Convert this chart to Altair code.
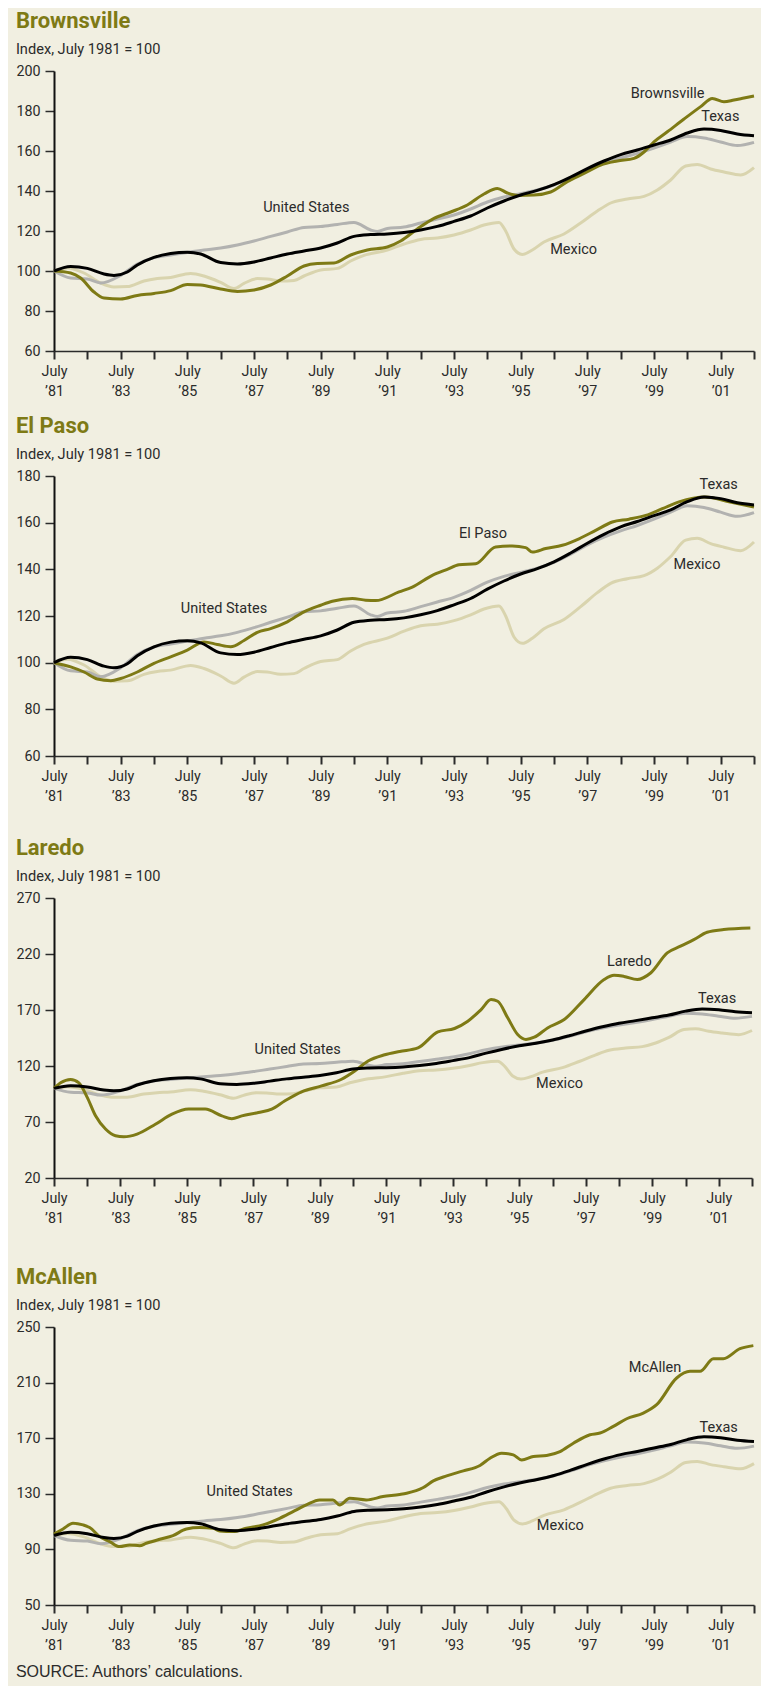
import altair as alt
import pandas as pd

# ---------------- data (index, July 1981 = 100) ----------------
US_T = [1981.5, 1982.0, 1982.5, 1982.9, 1983.5, 1984.0, 1984.5, 1985.0, 1985.5, 1986.0,
        1986.5, 1987.0, 1987.5, 1988.0, 1988.5, 1989.0, 1989.5, 1990.0, 1990.5, 1991.0,
        1991.2, 1991.5, 1992.0, 1992.5, 1993.0, 1993.5, 1994.0, 1994.5, 1995.0, 1995.5,
        1996.0, 1996.5, 1997.0, 1997.5, 1998.0, 1998.5, 1999.0, 1999.5, 2000.0, 2000.5,
        2001.0, 2001.5, 2002.0, 2002.5]
US_V = [100, 96.5, 96, 94, 97.8, 103.5, 106.7, 108, 109.3, 110.5,
        111.5, 113, 115, 117.3, 119.5, 121.8, 122.2, 123.3, 124.3, 120.5,
        119.8, 121.3, 122, 124, 126, 128, 131, 134.5, 137, 138.7,
        140.5, 143, 146.5, 150.5, 153.8, 156.5, 158.8, 161.5, 164.5, 167.2,
        166.5, 164.5, 162.7, 164.3]

TX_T = [1981.5, 1982.0, 1982.5, 1983.0, 1983.3, 1983.7, 1984.0, 1984.5, 1985.0, 1985.5,
        1985.9, 1986.5, 1987.0, 1987.5, 1988.0, 1988.5, 1989.0, 1989.5, 1990.0, 1990.5,
        1991.0, 1991.5, 1992.0, 1992.5, 1993.0, 1993.5, 1994.0, 1994.5, 1995.0, 1995.5,
        1996.0, 1996.5, 1997.0, 1997.5, 1998.0, 1998.5, 1999.0, 1999.5, 2000.0, 2000.5,
        2001.0, 2001.5, 2002.0, 2002.5]
TX_V = [100, 102.3, 101.3, 98.5, 97.8, 99.5, 103, 106.8, 108.8, 109.4,
        108.5, 104.2, 103.5, 104.5, 106.5, 108.5, 110, 111.5, 114, 117.3,
        118.2, 118.5, 119.2, 120.5, 122.3, 124.8, 127.5, 131.5, 135, 138,
        140.3, 143.2, 147, 151.2, 155, 158.2, 160.5, 163, 165.5, 169,
        171, 170.3, 168.5, 167.6]

MX_T = [1981.5, 1981.9, 1982.4, 1982.9, 1983.3, 1983.7, 1984.2, 1984.6, 1985.0, 1985.6,
        1986.0, 1986.5, 1986.9, 1987.2, 1987.6, 1987.9, 1988.3, 1988.7, 1989.0, 1989.5,
        1990.0, 1990.4, 1990.8, 1991.5, 1992.0, 1992.5, 1993.0, 1993.5, 1994.0, 1994.4,
        1994.85, 1995.05, 1995.3, 1995.55, 1995.85, 1996.2, 1996.8, 1997.3, 1997.8, 1998.2,
        1998.7, 1999.2, 1999.6, 2000.0, 2000.45, 2000.8, 2001.2, 2001.6, 2002.1, 2002.5]
MX_V = [100, 101.5, 99, 94, 92, 92.2, 95, 96.2, 96.8, 98.8,
        97.5, 94.3, 91.2, 93.8, 96.2, 96, 95, 95.3, 97.5, 100.5,
        101.3, 105, 107.8, 110.5, 113.5, 115.8, 116.5, 118, 120.5, 123,
        124.3, 120, 111, 108.3, 110.5, 114.5, 118.5, 124, 130, 134,
        136, 137.3, 140.5, 145.5, 152.5, 153.3, 151, 149.5, 148, 151.7]

BRO_T = [1981.5, 1982.0, 1982.3, 1982.7, 1983.0, 1983.5, 1984.0, 1984.5, 1985.0, 1985.5,
         1985.9, 1986.5, 1987.0, 1987.5, 1988.0, 1988.5, 1989.0, 1989.4, 1989.9, 1990.4,
         1990.9, 1991.5, 1991.9, 1992.4, 1992.9, 1993.4, 1993.9, 1994.4, 1994.8, 1995.1,
         1995.4, 1995.9, 1996.4, 1996.9, 1997.4, 1997.9, 1998.4, 1998.9, 1999.2, 1999.5,
         1999.9, 2000.4, 2000.9, 2001.25, 2001.6, 2001.9, 2002.2, 2002.5]
BRO_V = [100, 99, 96.5, 89.5, 86.5, 86, 87.8, 88.8, 90.2, 93.3,
         93, 91, 89.8, 90.5, 93, 97.5, 102.5, 103.8, 104, 108,
         110.5, 112, 115, 121, 126.3, 129.5, 133, 138.5, 141.3, 139,
         137.8, 138, 139.5, 144.7, 148.8, 153, 155, 156.3, 159.5, 164.6,
         169.6, 176, 182.2, 186.3, 184.6, 185.5, 186.5, 187.5]

ELP_T = [1981.5, 1982.0, 1982.4, 1982.8, 1983.2, 1983.5, 1984.0, 1984.5, 1985.0, 1985.5,
         1986.0, 1986.4, 1986.8, 1987.2, 1987.6, 1988.0, 1988.5, 1989.0, 1989.5, 1989.85,
         1990.45, 1990.85, 1991.15, 1991.85, 1992.25, 1992.85, 1993.3, 1993.65, 1994.15, 1994.75,
         1995.25, 1995.65, 1995.85, 1996.25, 1996.75, 1997.25, 1997.75, 1998.25, 1998.75, 1999.25,
         1999.75, 2000.25, 2001.05, 2001.75, 2002.5]
ELP_V = [100, 98.2, 96, 93, 92.3, 93.2, 96, 99.7, 102.5, 105.4,
         108.9, 107.8, 106.8, 109.5, 113, 114.6, 117.5, 121.8, 124.6, 126.3,
         127.5, 126.8, 126.6, 130.3, 132.4, 137.4, 140, 142, 142.4, 149.6,
         150, 149.3, 147.4, 148.9, 150.3, 153.1, 156.7, 160.3, 161.5, 163.1,
         166, 168.9, 171, 168.9, 166.7]

LAR_T = [1981.5, 1981.7, 1982.0, 1982.25, 1982.5, 1982.75, 1983.05, 1983.35, 1983.6, 1984.0,
         1984.55, 1985.05, 1985.55, 1986.05, 1986.55, 1986.85, 1987.15, 1987.65, 1988.05, 1988.45,
         1988.95, 1989.55, 1990.15, 1990.55, 1990.95, 1991.45, 1991.9, 1992.45, 1993.05, 1993.55,
         1993.95, 1994.35, 1994.65, 1994.85, 1995.15, 1995.45, 1995.7, 1995.95, 1996.35, 1996.85,
         1997.45, 1998.05, 1998.35, 1998.65, 1999.05, 1999.45, 1999.95, 2000.35, 2000.75, 2001.15,
         2001.65, 2002.45]
LAR_V = [100, 105, 108, 105, 92, 75.5, 63.7, 57.7, 56.8, 59.2,
         68, 77, 81.5, 81.5, 75.5, 73, 75.5, 78.5, 81.5, 89,
         97, 102.2, 108.2, 115.6, 124.5, 130, 133, 136.2, 150.5, 153.5,
         160, 170.4, 179.3, 177.8, 163, 148.1, 143.7, 145.7, 154, 161.5,
         179.3, 197.2, 201, 200, 197.2, 203, 221, 227, 232.8, 239.4,
         241.8, 243.2]

MCA_T = [1981.5, 1981.77, 1982.07, 1982.37, 1982.57, 1982.87, 1983.17, 1983.47, 1983.77, 1984.07,
         1984.27, 1984.67, 1985.07, 1985.47, 1985.87, 1986.27, 1986.47, 1986.87, 1987.27, 1987.77,
         1988.27, 1988.67, 1989.07, 1989.47, 1989.87, 1990.07, 1990.37, 1990.87, 1991.37, 1991.87,
         1992.08, 1992.58, 1992.88, 1993.28, 1993.78, 1994.28, 1994.58, 1994.93, 1995.28, 1995.53,
         1995.88, 1996.28, 1996.68, 1997.08, 1997.58, 1997.88, 1998.28, 1998.68, 1999.18, 1999.58,
         2000.18, 2000.58, 2000.88, 2001.28, 2001.58, 2002.08, 2002.48]
MCA_V = [101, 104.7, 108.8, 107.6, 105.7, 99.2, 95.6, 92, 93.2, 92.7,
         94.4, 97.3, 99.9, 104.7, 105.7, 105.2, 103.3, 102.8, 105.2, 107.6,
         112.4, 117.2, 122, 125.6, 125.6, 122, 126.8, 125.6, 128, 129.5,
         130.4, 134.5, 139.3, 142.9, 146.5, 150.4, 155.6, 159.2, 158, 154.4,
         156.8, 157.6, 160.4, 166.4, 172.5, 173.7, 178.5, 184, 188.1, 194.1,
         213.3, 218.1, 218.1, 227.2, 227.2, 234.4, 236.6]

# direct labels: (text, year, index)
LBL_BRO = [("United States", 1989.07, 131.3), ("Brownsville", 1999.91, 188.5),
           ("Texas", 2001.49, 177.2), ("Mexico", 1997.09, 110.5)]
LBL_ELP = [("United States", 1986.6, 123.1), ("El Paso", 1994.37, 155.3),
           ("Texas", 2001.44, 176.0), ("Mexico", 2000.79, 142.0)]
LBL_LAR = [("United States", 1988.83, 133.9), ("Laredo", 1998.81, 212.9),
           ("Texas", 2001.45, 179.4), ("Mexico", 1996.71, 103.5)]
LBL_MCA = [("United States", 1987.37, 131.6), ("McAllen", 1999.53, 220.5),
           ("Texas", 2001.44, 177.2), ("Mexico", 1996.69, 107.1)]

Y_BRO = [60, 80, 100, 120, 140, 160, 180, 200]
Y_ELP = [60, 80, 100, 120, 140, 160, 180]
Y_LAR = [20, 70, 120, 170, 220, 270]
Y_MCA = [50, 90, 130, 170, 210, 250]
X_TICKS = [1981.5 + i for i in range(22)]   # every July, 1981-2002

SUBTITLE = "Index, July 1981 = 100"
SOURCE = "SOURCE: Authors\u2019 calculations."

# ---------------- style ----------------
BG = "#F1EFE1"
OLIVE = "#7E7A15"
GRAY = "#B2B2B0"
TAN = "#D9D4AE"
INK = "#2B2B2B"
FONT = "Roboto, Liberation Sans, sans-serif"
REG = "Liberation Sans, Arial, sans-serif"
LS = 14.3   # label font size


def series_df(ts, vs):
    return pd.DataFrame({"t": ts, "v": vs})


def panel(name, ct, cv, yticks, labels, w, h):
    xs = alt.X("t:Q", title=None,
               scale=alt.Scale(domain=[1981.5, 2002.5], nice=False, zero=False),
               axis=alt.Axis(values=X_TICKS, tickCount=len(X_TICKS),
                             labelExpr="floor(datum.value) % 2 == 1 ? ['July', '\u2019' + substring(toString(floor(datum.value)), 2, 4)] : ''",
                             labelOverlap=False, labelFlush=False, grid=False,
                             tickSize=8, tickWidth=2, tickColor=INK,
                             domainColor=INK, domainWidth=1.5,
                             labelFont=FONT, labelFontSize=LS, labelColor=INK,
                             labelPadding=5, labelLineHeight=20))
    ys = alt.Y("v:Q", title=None,
               scale=alt.Scale(domain=[yticks[0], yticks[-1]], nice=False, zero=False),
               axis=alt.Axis(values=yticks, tickCount=len(yticks), grid=False,
                             tickSize=9, tickWidth=1.5,
                             tickColor=INK, domainColor="#111111", domainWidth=2,
                             labelOverlap=False, labelFont=FONT, labelFontSize=LS,
                             labelColor=INK, labelPadding=5))

    def line(ts, vs, color):
        return alt.Chart(series_df(ts, vs)).mark_line(
            color=color, strokeWidth=3, interpolate="monotone", strokeJoin="round"
        ).encode(x=xs, y=ys)

    lab = pd.DataFrame(labels, columns=["label", "t", "v"])
    txt = alt.Chart(lab).mark_text(font=FONT, fontSize=14.5, color=INK,
                                   align="center", baseline="middle").encode(
        x=alt.X("t:Q"), y=alt.Y("v:Q"), text="label:N")

    return alt.layer(
        line(MX_T, MX_V, TAN),
        line(US_T, US_V, GRAY),
        line(ct, cv, OLIVE),
        line(TX_T, TX_V, "#000000"),
        txt,
    ).properties(
        width=w, height=h,
        title=alt.TitleParams(text=name, subtitle=SUBTITLE, anchor="start", frame="bounds",
                              font=FONT, fontSize=22, fontWeight="bold", color=OLIVE,
                              subtitleFont=FONT, subtitleFontSize=14.6, subtitleColor=INK,
                              subtitlePadding=9, offset=6),
    )


p1 = panel("Brownsville", BRO_T, BRO_V, Y_BRO, LBL_BRO, 700, 280)
p2 = panel("El Paso", ELP_T, ELP_V, Y_ELP, LBL_ELP, 700, 280)
p3 = panel("Laredo", LAR_T, LAR_V, Y_LAR, LBL_LAR, 698, 280)
p4 = panel("McAllen", MCA_T, MCA_V, Y_MCA, LBL_MCA, 700, 278)

chart = alt.vconcat(
    p1,
    alt.vconcat(p2, alt.vconcat(p3, p4, spacing=40), spacing=33),
    spacing=16,
).properties(
    title=alt.TitleParams(text=SOURCE, orient="bottom", anchor="start", frame="bounds",
                          font=REG, fontSize=16, fontWeight="normal", color=INK,
                          offset=12),
    padding={"left": 7, "top": 2, "right": 5, "bottom": 5},
    background=BG,
).configure_view(strokeWidth=0)

chart.save("out.html", embed_options={"renderer": "svg", "actions": False})
